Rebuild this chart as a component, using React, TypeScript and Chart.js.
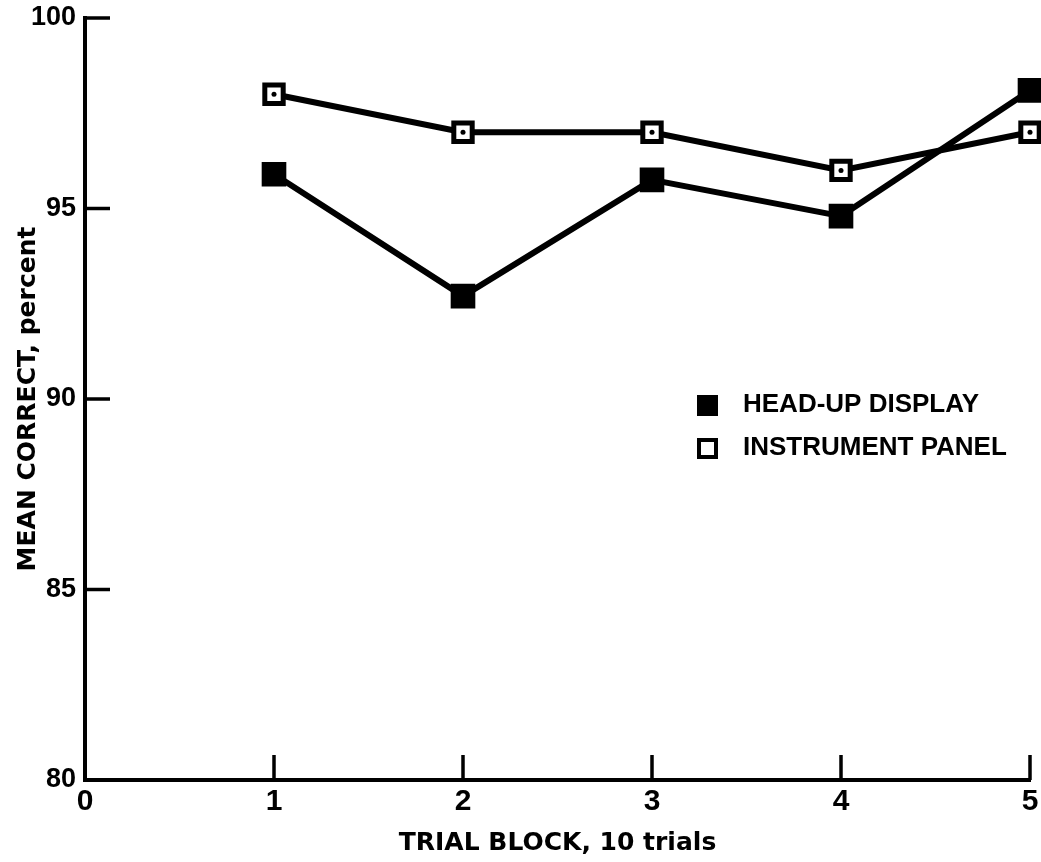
import React, { useEffect, useRef } from "react";
import { Chart, registerables } from "chart.js";

Chart.register(...registerables);

// ---- data ----
const trialBlocks = [1, 2, 3, 4, 5];
const headUpDisplay = [95.9, 92.7, 95.75, 94.8, 98.1];
const instrumentPanel = [98.0, 97.0, 97.0, 96.0, 97.0];
const xTickValues = [0, 1, 2, 3, 4, 5];
const yTickValues = [80, 85, 90, 95, 100];
const seriesLabels = ["HEAD-UP DISPLAY", "INSTRUMENT PANEL"];
const xTitle = "TRIAL BLOCK, 10 trials";
const yTitle = "MEAN CORRECT, percent";

const FONT = "'Liberation Sans', Arial, Helvetica, sans-serif";
const WIDE_FONT = "'DejaVu Sans', 'Liberation Sans', sans-serif";

const inwardTicks = {
  id: "inwardTicks",
  beforeDatasetsDraw(chart: any) {
    const { ctx, chartArea, scales } = chart;
    const xs = scales.x;
    const ys = scales.y;
    ctx.save();
    ctx.strokeStyle = "#000";
    ctx.lineWidth = 3.5;
    xs.ticks.forEach((t: any) => {
      if (t.value === xs.min) return;
      const px = xs.getPixelForValue(t.value);
      ctx.beginPath();
      ctx.moveTo(px, chartArea.bottom);
      ctx.lineTo(px, chartArea.bottom - 25);
      ctx.stroke();
    });
    ys.ticks.forEach((t: any) => {
      if (t.value === ys.min) return;
      const py = ys.getPixelForValue(t.value);
      ctx.beginPath();
      ctx.moveTo(chartArea.left, py);
      ctx.lineTo(chartArea.left + 25, py);
      ctx.stroke();
    });
    ctx.restore();
  },
};

const insideLegend = {
  id: "insideLegend",
  afterDraw(chart: any) {
    const { ctx, chartArea } = chart;
    const bx = chartArea.left + 612;
    const tx = chartArea.left + 658;
    const y1 = chartArea.top + 387;
    const y2 = chartArea.top + 430;
    ctx.save();
    ctx.fillStyle = "#000";
    ctx.strokeStyle = "#000";
    ctx.fillRect(bx, y1 - 10, 21, 21);
    ctx.lineWidth = 4;
    ctx.strokeRect(bx + 2, y2 - 8, 17, 17);
    ctx.font = `bold 26px ${FONT}`;
    ctx.textBaseline = "middle";
    ctx.textAlign = "left";
    ctx.fillText(seriesLabels[0], tx, y1);
    ctx.fillText(seriesLabels[1], tx, y2);
    ctx.restore();
  },
};

export default function App() {
  const canvasRef = useRef<HTMLCanvasElement | null>(null);

  useEffect(() => {
    const canvas = canvasRef.current;
    if (!canvas) return;
    const hud = trialBlocks.map((x, i) => ({ x, y: headUpDisplay[i] }));
    const ip = trialBlocks.map((x, i) => ({ x, y: instrumentPanel[i] }));
    const chart = new Chart(canvas, {
      type: "line",
      data: {
        datasets: [
          {
            label: seriesLabels[1] + " dot",
            data: ip,
            showLine: false,
            pointStyle: "circle",
            pointRadius: 2.5,
            pointBackgroundColor: "#000",
            pointBorderWidth: 0,
            clip: false,
            order: 0,
          } as any,
          {
            label: seriesLabels[0],
            data: hud,
            borderColor: "#000",
            borderWidth: 6,
            pointStyle: "rect",
            pointRadius: 16,
            pointBackgroundColor: "#000",
            pointBorderColor: "#000",
            pointBorderWidth: 2,
            tension: 0,
            clip: false,
            order: 1,
          } as any,
          {
            label: seriesLabels[1],
            data: ip,
            borderColor: "#000",
            borderWidth: 6,
            pointStyle: "rect",
            pointRadius: 13,
            pointBackgroundColor: "#fff",
            pointBorderColor: "#000",
            pointBorderWidth: 5,
            tension: 0,
            clip: false,
            order: 1,
          } as any,
        ],
      },
      options: {
        responsive: false,
        animation: false,
        devicePixelRatio: 1,
        layout: { autoPadding: false, padding: { top: 18, right: 11, left: 0, bottom: 0 } },
        plugins: {
          legend: { display: false },
          tooltip: { enabled: false },
        },
        scales: {
          x: {
            type: "linear",
            min: xTickValues[0],
            max: xTickValues[xTickValues.length - 1],
            afterBuildTicks: (s: any) => {
              s.ticks = xTickValues.map((v) => ({ value: v }));
            },
            afterFit: (s: any) => {
              s.height = 82;
              s.paddingLeft = 0;
              s.paddingRight = 0;
            },
            grid: { display: false, drawTicks: false },
            border: { display: true, color: "#000", width: 4 },
            ticks: {
              color: "#000",
              padding: 4,
              font: { family: FONT, size: 30, weight: "bold" },
            },
            title: {
              display: true,
              text: xTitle,
              color: "#000",
              font: { family: WIDE_FONT, size: 25, weight: "bold" },
              padding: { top: 0, bottom: 4 },
            },
          },
          y: {
            type: "linear",
            min: yTickValues[0],
            max: yTickValues[yTickValues.length - 1],
            afterBuildTicks: (s: any) => {
              s.ticks = yTickValues.map((v) => ({ value: v }));
            },
            afterFit: (s: any) => {
              s.width = 85;
              s.paddingTop = 0;
              s.paddingBottom = 0;
            },
            grid: { display: false, drawTicks: false },
            border: { display: true, color: "#000", width: 4 },
            ticks: {
              color: "#000",
              padding: 9,
              font: { family: FONT, size: 27, weight: "bold" },
            },
            title: {
              display: true,
              text: yTitle,
              color: "#000",
              font: { family: WIDE_FONT, size: 25, weight: "bold" },
              padding: { top: 13, bottom: 0 },
            },
          },
        },
      } as any,
      plugins: [inwardTicks, insideLegend],
    });
    return () => chart.destroy();
  }, []);

  return (
    <div style={{ position: "fixed", left: 0, top: 0, width: 1041, height: 862, background: "#fff" }}>
      <canvas ref={canvasRef} width={1041} height={862} style={{ display: "block" }} />
    </div>
  );
}
